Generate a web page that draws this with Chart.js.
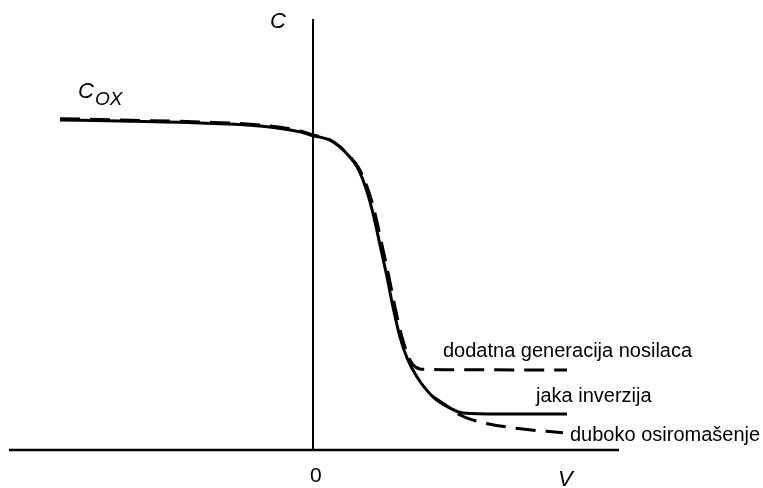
<!DOCTYPE html>
<html>
<head>
<meta charset="utf-8">
<script src="https://cdn.jsdelivr.net/npm/chart.js@4/dist/chart.umd.min.js"></script>
<style>
  html, body { margin: 0; padding: 0; background: #fff; }
  #wrap { width: 763px; height: 488px; }
</style>
</head>
<body>
<div id="wrap"><canvas id="cv-chart" width="763" height="488"></canvas></div>
<script>
// MOS C-V curve, V in volts (arbitrary), C normalised to Cox
const vMain = [-5.06, -3.86, -2.26, -1.06, -0.26, 0, 0.14, 0.34, 0.54, 0.7, 0.88, 1.0, 1.14, 1.24, 1.34, 1.48, 1.6, 1.74, 1.88, 2.08, 2.4, 2.74, 3.0, 3.74, 5.08];
const cMain = [1.0, 0.997, 0.991, 0.982, 0.964, 0.952, 0.948, 0.939, 0.918, 0.894, 0.858, 0.818, 0.752, 0.691, 0.621, 0.524, 0.433, 0.342, 0.279, 0.221, 0.161, 0.127, 0.112, 0.109, 0.109];

// dashed: extra carrier generation (flattens higher)
const vGen = [-5.06, -3.86, -2.26, -1.06, -0.26, 0, 0.14, 0.34, 0.54, 0.7, 0.9, 1.03, 1.18, 1.28, 1.38, 1.52, 1.64, 1.78, 1.92, 2.0, 2.16, 3.0, 5.08];
const cGen = [1.004, 1.0, 0.994, 0.985, 0.967, 0.955, 0.95, 0.94, 0.919, 0.895, 0.858, 0.818, 0.752, 0.691, 0.621, 0.524, 0.433, 0.342, 0.279, 0.258, 0.245, 0.243, 0.242];

// dashed: deep depletion (keeps falling)
const vDeep = [2.4, 2.74, 2.94, 3.34, 4.0, 5.0];
const cDeep = [0.161, 0.127, 0.106, 0.085, 0.067, 0.052];

const axisV = [-6.08, 6.12];
const axisC = [0, 1.306];

const labels = [
    { text: 'C', v: -0.86, c: 1.279, font: 'italic 22px "Liberation Sans", Arial' },
    { text: 'C', v: -4.7, c: 1.067, font: 'italic 22px "Liberation Sans", Arial', sub: 'OX' },
    { text: '0', v: -0.06, c: -0.097, font: '21px "Liberation Sans", Arial' },
    { text: 'V', v: 4.9, c: -0.109, font: 'italic 22px "Liberation Sans", Arial' },
    { text: 'dodatna generacija nosilaca', v: 2.6, c: 0.282, font: '20px "Liberation Sans", Arial' },
    { text: 'jaka inverzija', v: 4.46, c: 0.145, font: '20px "Liberation Sans", Arial' },
    { text: 'duboko osiromašenje', v: 5.14, c: 0.027, font: '20px "Liberation Sans", Arial' }
];

const pts = (xs, ys) => xs.map((x, i) => ({ x: x, y: ys[i] }));

const textPlugin = {
    id: 'textLabels',
    afterDatasetsDraw(chart) {
        const { ctx, scales: { x, y } } = chart;
        ctx.save();
        ctx.fillStyle = '#000';
        ctx.textBaseline = 'alphabetic';
        ctx.textAlign = 'left';
        labels.forEach(l => {
            const px = x.getPixelForValue(l.v);
            const py = y.getPixelForValue(l.c);
            ctx.font = l.font;
            ctx.fillText(l.text, px, py);
            if (l.sub) {
                const w = ctx.measureText(l.text).width;
                ctx.font = 'italic 19px "Liberation Sans", Arial';
                ctx.fillText(l.sub, px + w + 1, py + 7);
            }
        });
        ctx.restore();
    }
};

const line = (data, width, dash) => ({
    data: data,
    showLine: true,
    borderColor: '#000',
    borderWidth: width,
    borderDash: dash || [],
    pointRadius: 0,
    fill: false,
    cubicInterpolationMode: 'monotone'
});

new Chart(document.getElementById('cv-chart'), {
    type: 'scatter',
    data: {
        datasets: [
            line(pts(axisV, [0, 0]), 2.5),
            line(pts([0, 0], axisC), 2),
            line(pts(vMain, cMain), 3),
            line(pts(vGen, cGen), 3, [20, 10]),
            line(pts(vDeep, cDeep), 3, [20, 10])
        ]
    },
    options: {
        responsive: false,
        animation: false,
        layout: { padding: 0 },
        plugins: { legend: { display: false }, tooltip: { enabled: false } },
        scales: {
            x: { type: 'linear', display: false, min: -6.26, max: 9.0 },
            y: { type: 'linear', display: false, min: -0.1152, max: 1.3636 }
        }
    },
    plugins: [textPlugin]
});
</script>
</body>
</html>
